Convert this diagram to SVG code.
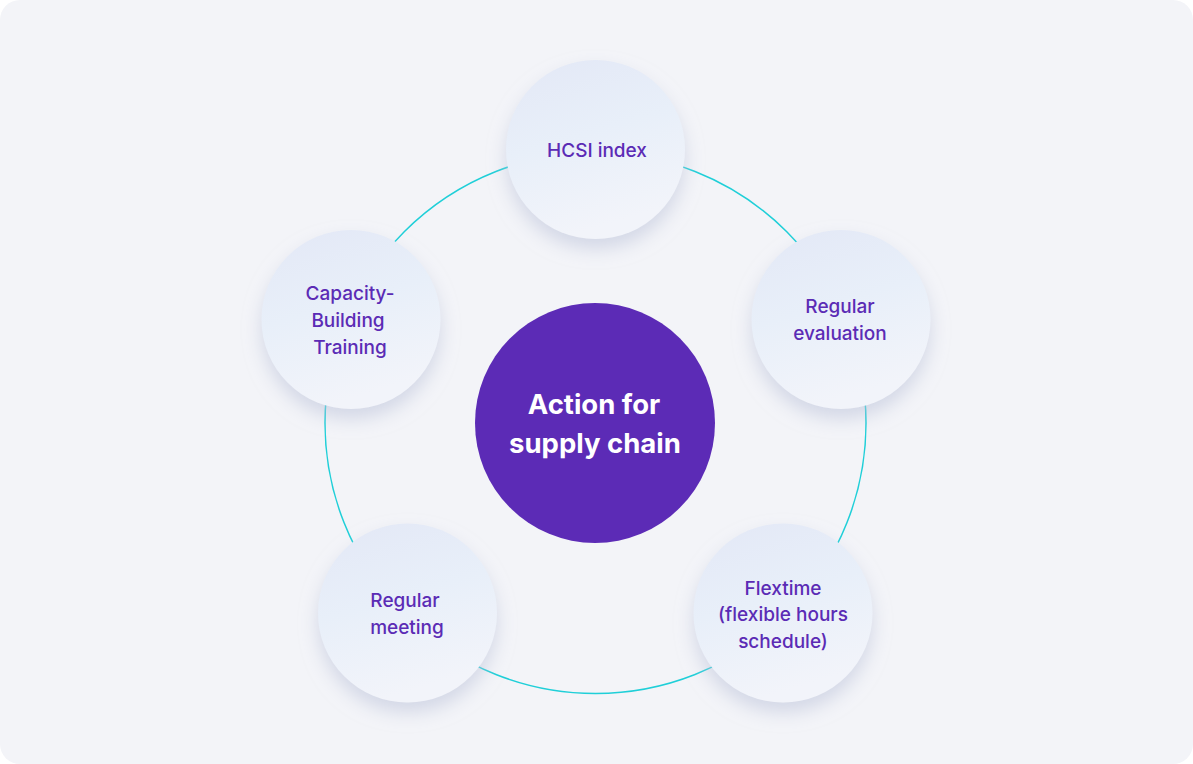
<svg xmlns="http://www.w3.org/2000/svg" width="1193" height="764" viewBox="0 0 1193 764">
<defs>
<style>
.lbl{font-family:Inter,"Noto Sans",sans-serif;font-size:19px;font-weight:500;fill:#5b2bb5;text-anchor:middle;}
.ctr{font-family:Inter,"Noto Sans",sans-serif;font-size:27.5px;font-weight:700;fill:#ffffff;text-anchor:middle;}
.node{fill:url(#g);filter:url(#sh);}
</style>
<linearGradient id="g" x1="0" y1="0" x2="0.3" y2="1">
<stop offset="0" stop-color="#e3e8f6"/>
<stop offset="0.5" stop-color="#e8eff9"/>
<stop offset="1" stop-color="#f2f4fa"/>
</linearGradient>
<filter id="sh" x="-30%" y="-30%" width="160%" height="170%">
<feDropShadow dx="0" dy="10" stdDeviation="9" flood-color="#b9c0d8" flood-opacity="0.55"/>
</filter>
</defs>
<rect x="0" y="0" width="1193" height="764" rx="20" fill="#f3f4f8"/>
<g id="connectors">
<circle cx="595.5" cy="423" r="270.5" fill="none" stroke="#1fcfd8" stroke-width="1.5"/>
</g>
<g id="center">
<circle cx="595" cy="423" r="120" fill="#5c2bb6"/>
<text class="ctr" x="594" y="414">Action for</text>
<text class="ctr" x="595" y="453">supply chain</text>
</g>
<g id="n1">
<circle class="node" cx="595.5" cy="149.5" r="89.5"/>
<text class="lbl" x="597" y="157">HCSI index</text>
</g>
<g id="n2">
<circle class="node" cx="841" cy="319.5" r="89.5"/>
<text class="lbl" x="840" y="313">Regular</text>
<text class="lbl" x="840" y="340">evaluation</text>
</g>
<g id="n3">
<circle class="node" cx="783" cy="613" r="89.5"/>
<text class="lbl" x="783" y="595">Flextime</text>
<text class="lbl" x="783" y="621">(flexible hours</text>
<text class="lbl" x="783" y="648">schedule)</text>
</g>
<g id="n4">
<circle class="node" cx="407.5" cy="613" r="89.5"/>
<text class="lbl" x="405" y="607">Regular</text>
<text class="lbl" x="407" y="634">meeting</text>
</g>
<g id="n5">
<circle class="node" cx="351" cy="319.5" r="89.5"/>
<text class="lbl" x="350" y="300">Capacity-</text>
<text class="lbl" x="348" y="327">Building</text>
<text class="lbl" x="350" y="354">Training</text>
</g>
</svg>
